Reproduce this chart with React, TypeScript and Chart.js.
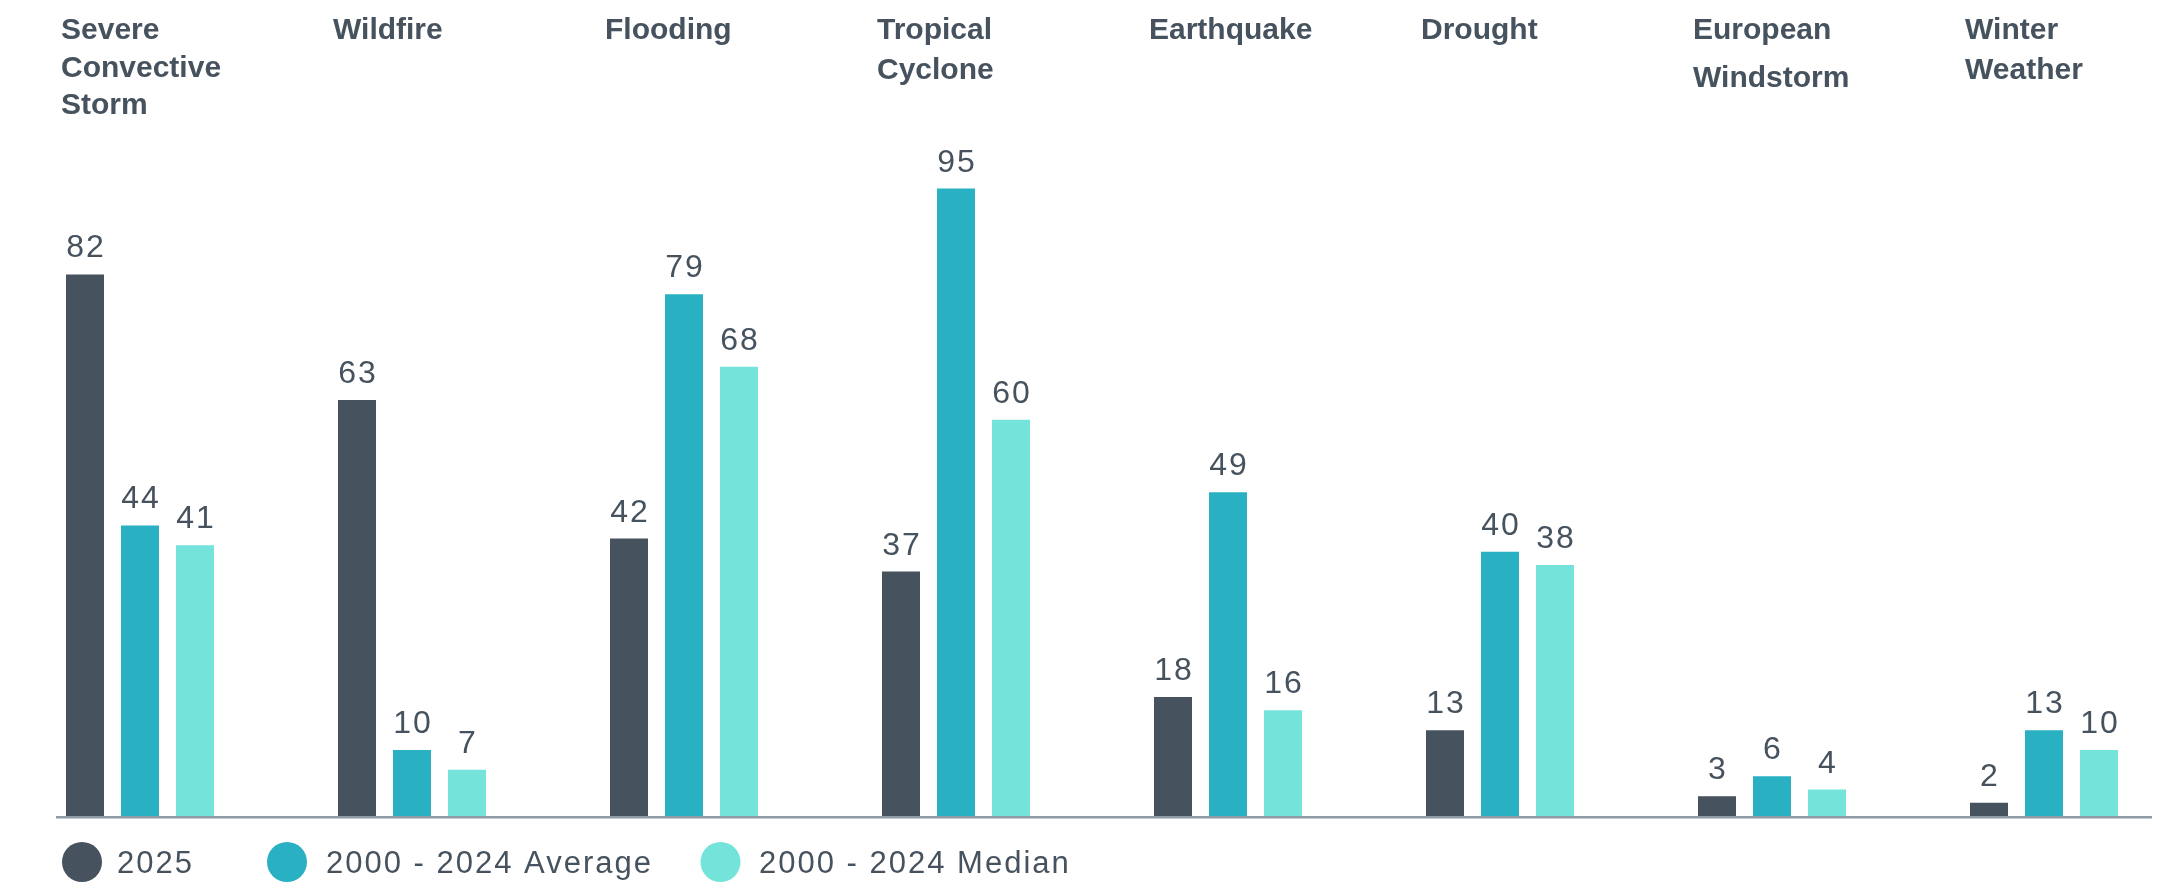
import React, { useEffect, useRef } from "react";
import { Chart, registerables } from "chart.js";

Chart.register(...registerables);

// Peril categories (each entry is the list of lines of its header)
const categories: string[][] = [
  ["Severe", "Convective", "Storm"],
  ["Wildfire"],
  ["Flooding"],
  ["Tropical", "Cyclone"],
  ["Earthquake"],
  ["Drought"],
  ["European", "Windstorm"],
  ["Winter", "Weather"],
];

const seriesLabels = ["2025", "2000 - 2024 Average", "2000 - 2024 Median"];

const values2025 = [82, 63, 42, 37, 18, 13, 3, 2];
const valuesAverage = [44, 10, 79, 95, 49, 40, 6, 13];
const valuesMedian = [41, 7, 68, 60, 16, 38, 4, 10];

const COLORS = ["#46525e", "#29b0c3", "#74e3da"];
const TEXT = "#46525e";
const AXIS = "#8e9ca3";
const FONT = '"Liberation Sans", Arial, Helvetica, sans-serif';

// gap between header lines, per category
const headerLineGap = [37.5, 38, 38, 40, 38, 38, 48, 40];

const overlayPlugin = {
  id: "overlay",
  afterDatasetsDraw(chart: any) {
    const ctx = chart.ctx as CanvasRenderingContext2D;
    const xScale = chart.scales.x;
    ctx.save();

    // baseline rule
    ctx.fillStyle = AXIS;
    ctx.fillRect(56, chart.chartArea.bottom, 2096, 2.5);

    // value labels above bars
    ctx.fillStyle = TEXT;
    ctx.font = `32px ${FONT}`;
    (ctx as any).letterSpacing = "2px";
    ctx.textAlign = "center";
    ctx.textBaseline = "alphabetic";
    chart.data.datasets.forEach((ds: any, di: number) => {
      const meta = chart.getDatasetMeta(di);
      meta.data.forEach((bar: any, i: number) => {
        ctx.fillText(String(ds.data[i]), bar.x + 1, bar.y - 17);
      });
    });

    // category headers along the top
    ctx.font = `bold 30px ${FONT}`;
    (ctx as any).letterSpacing = "0px";
    ctx.textAlign = "left";
    (chart.data.labels as string[][]).forEach((lines, i) => {
      const x = xScale.getPixelForValue(i) - 79;
      lines.forEach((line, li) => {
        ctx.fillText(line, x, 39 + li * headerLineGap[i]);
      });
    });

    // legend
    const legendY = 862;
    const circleX = [82, 287, 720.5];
    const textX = [117, 326, 759];
    ctx.font = `31px ${FONT}`;
    (ctx as any).letterSpacing = "2px";
    chart.data.datasets.forEach((ds: any, di: number) => {
      ctx.fillStyle = ds.backgroundColor;
      ctx.beginPath();
      ctx.arc(circleX[di], legendY, 20, 0, Math.PI * 2);
      ctx.fill();
      ctx.fillStyle = TEXT;
      ctx.fillText(ds.label, textX[di], 873);
    });

    ctx.restore();
  },
};

export default function App() {
  const canvasRef = useRef<HTMLCanvasElement | null>(null);

  useEffect(() => {
    if (!canvasRef.current) return;
    const chart = new Chart(canvasRef.current, {
      type: "bar",
      data: {
        labels: categories as any,
        datasets: [values2025, valuesAverage, valuesMedian].map((d, i) => ({
          label: seriesLabels[i],
          data: d,
          backgroundColor: COLORS[i],
          borderWidth: 0,
          categoryPercentage: 0.6066,
          barPercentage: 0.691,
        })),
      },
      options: {
        responsive: false,
        animation: false,
        layout: { padding: { left: 4, right: 20, top: 155.5, bottom: 69 } },
        plugins: {
          legend: { display: false },
          tooltip: { enabled: false },
          title: { display: false },
        },
        scales: {
          x: { display: false, offset: true, grid: { display: false } },
          y: { display: false, min: 0, max: 100, grid: { display: false } },
        },
      },
      plugins: [overlayPlugin],
    });
    return () => chart.destroy();
  }, []);

  return (
    <div
      style={{
        position: "absolute",
        left: 0,
        top: 0,
        width: 2172,
        height: 885,
        overflow: "hidden",
        background: "#ffffff",
      }}
    >
      <canvas ref={canvasRef} width={2200} height={885} style={{ display: "block" }} />
    </div>
  );
}
